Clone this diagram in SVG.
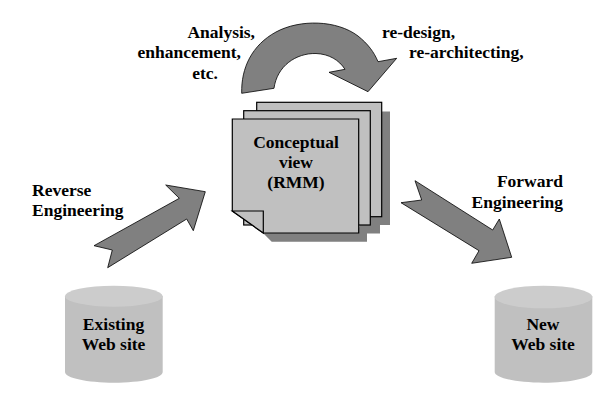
<svg xmlns="http://www.w3.org/2000/svg" width="612" height="404" viewBox="0 0 612 404">
<style>
text{font-family:"Liberation Serif","Times New Roman",serif;font-weight:bold;font-size:17.5px;fill:#000}
.m{text-anchor:middle}
.arrow{fill:#808080;stroke:#000;stroke-width:0.8;stroke-linejoin:miter}
.sheet{fill:#c0c0c0;stroke:#000;stroke-width:1.2}
.shadow{fill:#808080}
.body{fill:#c0c0c0}
.top{fill:#cccccc}
</style>
<rect width="612" height="404" fill="#fff"/>
<g id="connectors">
<path id="cycle-arrow" class="arrow" d="M241.7 93.3C241 68 252 45 276 32C300 19 337 20 358 36C368 44 374 52 378 61.7L396.7 58.3L368 91.7L329 72.3L345 69.3C339 60 329 54 316 53.5C296 53 277 66 274 88.3Z"/>
<polygon id="reverse-arrow" class="arrow" points="205.3,191.7 165.7,185 179.3,198.3 94,245.7 112.3,250 107.7,267.7 186.7,219 193.3,230.7"/>
<polygon id="forward-arrow" class="arrow" points="415,180.7 421.7,200 401,202.7 479,250.7 471.7,263.3 511.7,257.3 499.3,219 492.7,230"/>
</g>
<g id="conceptual-view">
<path class="shadow" d="M381.7 111.5H390V225H380V233.5H367V241.7H271.7L263 233H358Z"/>
<rect class="sheet" x="256.7" y="102.3" width="125" height="114.4"/>
<rect class="sheet" x="243.7" y="110.7" width="126.6" height="114.3"/>
<path class="sheet" d="M232.3 119H358.7V233H263.3L232.3 211Z"/>
<path class="sheet" d="M232.3 211H263.3V233Z"/>
<text class="m" x="296" y="147.7">Conceptual</text>
<text class="m" x="296" y="168">view</text>
<text class="m" x="296" y="188">(RMM)</text>
</g>
<g id="existing-site">
<path class="body" d="M65 296V372C65 378 87 382.7 114 382.7S162.7 378 162.7 372V296Z"/>
<ellipse class="top" cx="113.8" cy="296.2" rx="48.8" ry="10.5"/>
<text class="m" x="113.5" y="330">Existing</text>
<text class="m" x="113.5" y="350">Web site</text>
</g>
<g id="new-site">
<path class="body" d="M494.7 296V372C494.7 378 517 382.7 543.5 382.7S592.3 378 592.3 372V296Z"/>
<ellipse class="top" cx="543.5" cy="297" rx="48.8" ry="11.3"/>
<text class="m" x="543" y="330">New</text>
<text class="m" x="543" y="350">Web site</text>
</g>
<g id="labels">
<text x="255" y="38" text-anchor="end">Analysis,</text>
<text x="241" y="58" text-anchor="end">enhancement,</text>
<text x="218" y="79" text-anchor="end">etc.</text>
<text x="382" y="38">re-design,</text>
<text x="409" y="58">re-architecting,</text>
<text x="32" y="196">Reverse</text>
<text x="32" y="216">Engineering</text>
<text x="563" y="187" text-anchor="end">Forward</text>
<text x="563" y="208" text-anchor="end">Engineering</text>
</g>
</svg>
